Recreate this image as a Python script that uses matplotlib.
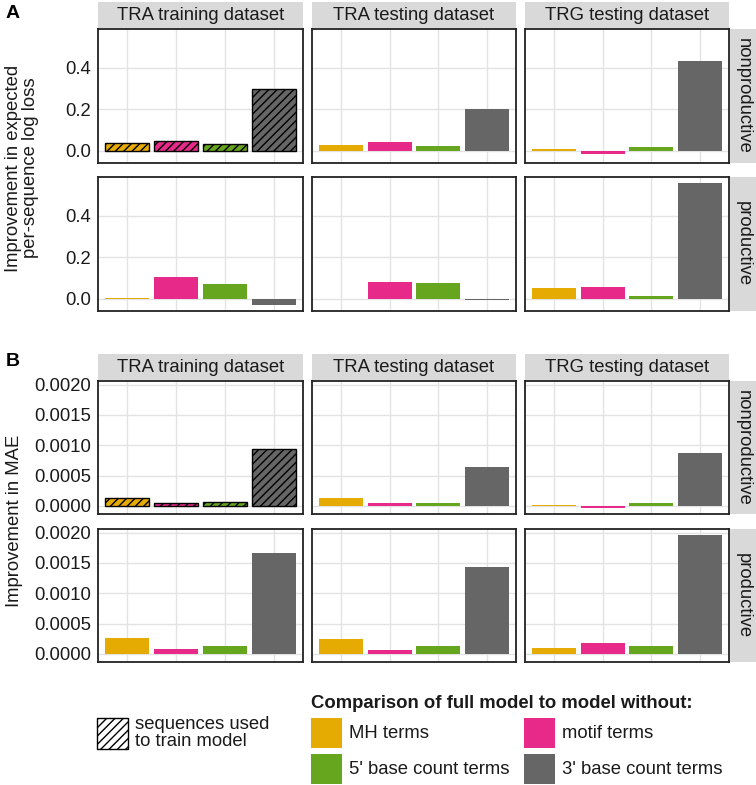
import matplotlib
matplotlib.use("Agg")
import matplotlib.pyplot as plt
from matplotlib.patches import Rectangle
import numpy as np

plt.rcParams['font.family'] = ['Liberation Sans', 'DejaVu Sans']
plt.rcParams['hatch.linewidth'] = 1.0

# ---------------- data ----------------
datasets = ["TRA training dataset", "TRA testing dataset", "TRG testing dataset"]
row_types = ["nonproductive", "productive"]
terms = ["MH terms", "motif terms", "5' base count terms", "3' base count terms"]
colors = ["#E6AB02", "#E7298A", "#66A61E", "#666666"]

# Panel A: improvement in expected per-sequence log loss
loss_train_nonprod = [0.037, 0.046, 0.032, 0.297]
loss_train_prod = [0.006, 0.105, 0.070, -0.029]
loss_tratest_nonprod = [0.029, 0.043, 0.024, 0.202]
loss_tratest_prod = [0.001, 0.083, 0.078, -0.005]
loss_trgtest_nonprod = [0.007, -0.013, 0.019, 0.433]
loss_trgtest_prod = [0.051, 0.057, 0.016, 0.556]

# Panel B: improvement in MAE
mae_train_nonprod = [0.000136, 0.000055, 0.000070, 0.000930]
mae_train_prod = [0.000260, 0.000080, 0.000135, 0.001660]
mae_tratest_nonprod = [0.000125, 0.000040, 0.000045, 0.000645]
mae_tratest_prod = [0.000240, 0.000070, 0.000125, 0.001430]
mae_trgtest_nonprod = [0.000010, -0.000035, 0.000040, 0.000877]
mae_trgtest_prod = [0.000100, 0.000180, 0.000135, 0.001960]

yticks_A = [0.0, 0.2, 0.4]
yticklabels_A = ["0.0", "0.2", "0.4"]
yticks_B = [0.0, 0.0005, 0.0010, 0.0015, 0.0020]
yticklabels_B = ["0.0000", "0.0005", "0.0010", "0.0015", "0.0020"]

sections = [
    dict(label="A",
         grid=[[loss_train_nonprod, loss_tratest_nonprod, loss_trgtest_nonprod],
               [loss_train_prod, loss_tratest_prod, loss_trgtest_prod]],
         yticks=yticks_A, yticklabels=yticklabels_A,
         ylabel="Improvement in expected\nper-sequence log loss"),
    dict(label="B",
         grid=[[mae_train_nonprod, mae_tratest_nonprod, mae_trgtest_nonprod],
               [mae_train_prod, mae_tratest_prod, mae_trgtest_prod]],
         yticks=yticks_B, yticklabels=yticklabels_B,
         ylabel="Improvement in MAE"),
]

# ---------------- layout (pixels) ----------------
W, H = 756, 785
fig = plt.figure(figsize=(W / 100, H / 100), dpi=100)

def box(x0, y0, x1, y1):
    return [x0 / W, 1 - y1 / H, (x1 - x0) / W, (y1 - y0) / H]

def fx(x):
    return x / W

def fy(y):
    return 1 - y / H

cols_px = [(98, 303), (312, 516), (525, 729)]
rows_px = [[(29, 163), (177, 311)], [(381, 514), (529, 662)]]
strip_top_px = [(2, 28), (354, 380)]
strip_right_x = (730, 756)
label_pos = [(6, 14), (6, 361)]
ylabel_y = [168, 521]
ylabel_x = [22, 15]

TXT = "#1A1A1A"
FS = 13.3
GRID = "#E3E3E3"
STRIP = "#D9D9D9"

x = np.arange(1, 5)

for si, sec in enumerate(sections):
    allv = [v for row in sec["grid"] for arr in row for v in arr] + [0]
    lo, hi = min(allv), max(allv)
    pad = 0.05 * (hi - lo)
    ylim = (lo - pad, hi + pad)
    for ri in range(2):
        for ci in range(3):
            y0, y1 = rows_px[si][ri]
            x0, x1 = cols_px[ci]
            ax = fig.add_axes(box(x0, y0, x1, y1))
            vals = sec["grid"][ri][ci]
            hatched = (ci == 0 and ri == 0)
            if hatched:
                ax.bar(x, vals, width=0.9, color=colors, edgecolor="black",
                       linewidth=1.0, hatch="////", zorder=3)
            else:
                ax.bar(x, vals, width=0.9, color=colors, linewidth=0, zorder=3)
            ax.set_xlim(0.4, 4.6)
            ax.set_ylim(*ylim)
            ax.set_xticks(x)
            ax.set_xticklabels([])
            ax.set_yticks(sec["yticks"])
            if ci == 0:
                ax.set_yticklabels(sec["yticklabels"], fontsize=FS, color=TXT)
            else:
                ax.set_yticklabels([])
            ax.tick_params(length=0, pad=5)
            ax.grid(True, color=GRID, linewidth=1.0, zorder=0)
            ax.set_axisbelow(True)
            for sp in ax.spines.values():
                sp.set_color("#222222")
                sp.set_linewidth(1.3)
                sp.set_zorder(5)
        # right strip
        y0, y1 = rows_px[si][ri]
        sax = fig.add_axes(box(strip_right_x[0], y0, strip_right_x[1], y1))
        sax.set_facecolor(STRIP)
        sax.set_xticks([]); sax.set_yticks([])
        for sp in sax.spines.values():
            sp.set_visible(False)
        sax.text(0.5, 0.5, row_types[ri], rotation=270, ha="center", va="center",
                 fontsize=FS, color=TXT, transform=sax.transAxes)
    # top strips
    for ci in range(3):
        x0, x1 = cols_px[ci]
        t0, t1 = strip_top_px[si]
        tax = fig.add_axes(box(x0, t0, x1, t1))
        tax.set_facecolor(STRIP)
        tax.set_xticks([]); tax.set_yticks([])
        for sp in tax.spines.values():
            sp.set_visible(False)
        tax.text(0.5, 0.5, datasets[ci], ha="center", va="center",
                 fontsize=FS, color=TXT, transform=tax.transAxes)
    # panel label
    lx, ly = label_pos[si]
    fig.text(fx(lx), fy(ly), sec["label"], fontsize=14, fontweight="bold",
             ha="left", va="center", color="black")
    # y label
    fig.text(fx(ylabel_x[si]), fy(ylabel_y[si]), sec["ylabel"], rotation=90,
             ha="center", va="center", fontsize=FS, color=TXT,
             multialignment="center", linespacing=1.0)

# ---------------- legend ----------------
def key(x0, y0, x1, y1, **kw):
    r = Rectangle((fx(x0), fy(y1)), (x1 - x0) / W, (y1 - y0) / H,
                  transform=fig.transFigure, **kw)
    fig.add_artist(r)

key(97, 718, 128, 749, facecolor="white", edgecolor="black", linewidth=1.0, hatch="////")
fig.text(fx(135), fy(733), "sequences used\nto train model", ha="left", va="center",
         fontsize=FS, color=TXT, linespacing=0.95)

fig.text(fx(311), fy(703), "Comparison of full model to model without:",
         ha="left", va="center", fontsize=FS, fontweight="bold", color=TXT)

key_pos = [(311, 718), (524, 718), (311, 754), (524, 754)]
for (kx, ky), col, lab in zip(key_pos, colors, terms):
    key(kx, ky, kx + 31, ky + 30, facecolor=col, edgecolor="none")
    fig.text(fx(kx + 38), fy(ky + 15), lab, ha="left", va="center",
             fontsize=FS, color=TXT)

fig.savefig("out.png", dpi=100)
